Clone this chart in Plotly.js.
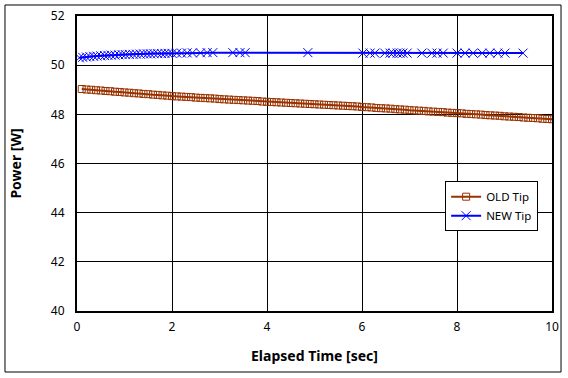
<!DOCTYPE html>
<html>
<head>
<meta charset="utf-8">
<script src="https://cdn.plot.ly/plotly-3.0.1.min.js"></script>
<style>html,body{margin:0;padding:0;background:#fff;}#chart{width:568px;height:378px;}</style>
</head>
<body>
<div id="chart"></div>
<script>
var oldTime = [0.1,0.2,0.3,0.4,0.5,0.6,0.7,0.8,0.9,1.0,
  1.1,1.2,1.3,1.4,1.5,1.6,1.7,1.8,1.9,2.0,
  2.1,2.2,2.3,2.4,2.5,2.6,2.7,2.8,2.9,3.0,
  3.1,3.2,3.3,3.4,3.5,3.6,3.7,3.8,3.9,4.0,
  4.1,4.2,4.3,4.4,4.5,4.6,4.7,4.8,4.9,5.0,
  5.1,5.2,5.3,5.4,5.5,5.6,5.7,5.8,5.9,6.0,
  6.1,6.2,6.3,6.4,6.5,6.6,6.7,6.8,6.9,7.0,
  7.1,7.2,7.3,7.4,7.5,7.6,7.7,7.8,7.9,8.0,
  8.1,8.2,8.3,8.4,8.5,8.6,8.7,8.8,8.9,9.0,
  9.1,9.2,9.3,9.4,9.5,9.6,9.7,9.8,9.9,10.0];
var oldPower = [49.03,49.01,49.00,48.98,48.97,48.95,48.94,48.92,48.91,48.89,
  48.88,48.86,48.85,48.83,48.82,48.80,48.79,48.77,48.76,48.74,
  48.73,48.72,48.71,48.70,48.68,48.67,48.66,48.65,48.64,48.62,
  48.61,48.60,48.59,48.58,48.57,48.56,48.55,48.54,48.52,48.51,
  48.50,48.49,48.48,48.47,48.46,48.45,48.44,48.43,48.42,48.41,
  48.40,48.39,48.38,48.37,48.36,48.35,48.34,48.33,48.32,48.30,
  48.29,48.28,48.26,48.25,48.24,48.23,48.21,48.20,48.19,48.17,
  48.16,48.15,48.14,48.12,48.11,48.10,48.09,48.07,48.06,48.05,
  48.04,48.02,48.01,48.00,47.99,47.97,47.96,47.95,47.94,47.92,
  47.91,47.90,47.89,47.87,47.86,47.85,47.84,47.82,47.81,47.80];

var newTime = [0.05,0.12,0.2,0.27,0.35,0.42,0.5,0.58,0.65,0.72,
  0.8,0.88,0.95,1.02,1.1,1.18,1.25,1.33,1.4,1.48,
  1.55,1.62,1.7,1.78,1.85,1.92,2.0,
  2.1,2.2,2.32,2.43,2.6,2.74,2.86,3.28,3.43,3.54,4.86,
  6.02,6.17,6.27,6.48,6.59,6.65,6.74,6.80,6.86,6.95,7.26,7.47,7.58,7.71,
  8.0,8.17,8.34,8.53,8.69,8.86,9.01,9.39];
var newPower = [50.30,50.32,50.33,50.35,50.36,50.37,50.38,50.39,50.40,50.41,
  50.41,50.42,50.43,50.43,50.44,50.44,50.45,50.45,50.46,50.46,
  50.46,50.47,50.47,50.47,50.48,50.48,50.48,
  50.49,50.49,50.50,50.50,50.50,50.51,50.51,50.51,50.51,50.51,50.51,
  50.49,50.49,50.49,50.49,50.49,50.49,50.49,50.49,50.49,50.49,50.49,50.49,50.49,50.49,
  50.49,50.49,50.49,50.49,50.49,50.49,50.49,50.49];

var seriesNames = ['OLD Tip', 'NEW Tip'];
var xTicks = [0,2,4,6,8,10];
var yTicks = [40,42,44,46,48,50,52];

var brown = 'rgb(153,51,0)';
var blue = 'rgb(0,0,255)';
var fontFam = '"Noto Sans", "DejaVu Sans", sans-serif';

var traces = [
  {x: oldTime, y: oldPower, name: seriesNames[0], type: 'scatter', mode: 'lines+markers',
   line: {color: brown, width: 2},
   marker: {symbol: 'square-open', size: 7, color: brown, line: {color: brown, width: 1}}},
  {x: newTime, y: newPower, name: seriesNames[1], type: 'scatter', mode: 'lines+markers',
   line: {color: blue, width: 2},
   marker: {symbol: 'x-thin-open', size: 9, color: blue, line: {color: blue, width: 1}}}
];

var layout = {
  width: 568, height: 378,
  margin: {l: 77, r: 16, t: 16, b: 67},
  paper_bgcolor: '#fff', plot_bgcolor: '#fff',
  font: {family: fontFam, size: 12, color: '#000'},
  showlegend: true,
  legend: {x: 0.775, y: 0.44, xanchor: 'left', yanchor: 'top',
    bgcolor: '#fff', bordercolor: '#000', borderwidth: 1,
    font: {family: fontFam, size: 11.5, color: '#000'}, tracegroupgap: 0, itemwidth: 30},
  xaxis: {range: [0, 10], tickvals: xTicks, ticktext: xTicks.map(String),
    showgrid: true, gridcolor: '#000', gridwidth: 1,
    showline: true, linecolor: '#000', linewidth: 2, mirror: true,
    ticks: '', zeroline: false, ticklabelstandoff: 4,
    title: {text: 'Elapsed Time [sec]', font: {family: fontFam, size: 14, weight: 'bold', color: '#000'}, standoff: 17}},
  yaxis: {range: [40, 52], tickvals: yTicks, ticktext: yTicks.map(String),
    showgrid: true, gridcolor: '#000', gridwidth: 1,
    showline: true, linecolor: '#000', linewidth: 2, mirror: true,
    ticks: '', zeroline: false, ticklabelstandoff: 8,
    title: {text: 'Power [W]', font: {family: fontFam, size: 14, weight: 'bold', color: '#000'}, standoff: 26}},
  shapes: [{type: 'rect', xref: 'paper', yref: 'paper',
    x0: -0.1516, x1: 1.019, y0: -0.2068, y1: 1.0373,
    line: {color: '#000', width: 1}, fillcolor: 'rgba(0,0,0,0)', layer: 'below'}]
};

Plotly.newPlot('chart', traces, layout, {displayModeBar: false, staticPlot: true});
</script>
</body>
</html>
